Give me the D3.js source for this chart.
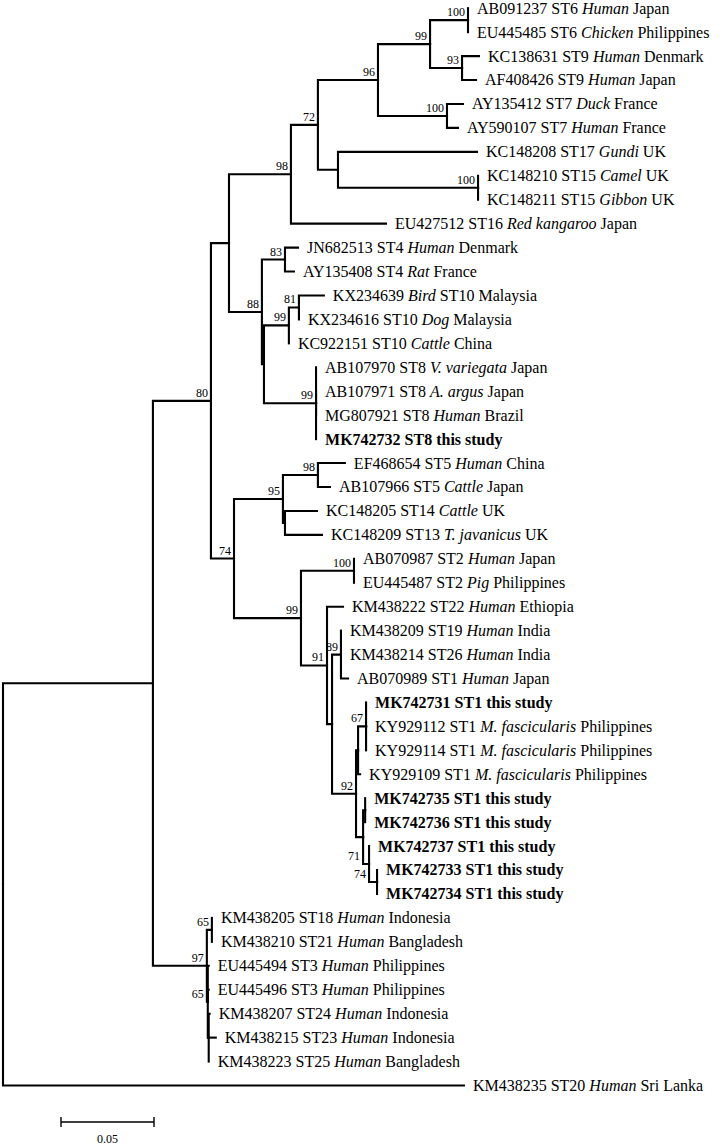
<!DOCTYPE html>
<html>
<head>
<meta charset="utf-8">
<style>
  body { margin: 0; background: #fff; }
  svg { display: block; }
  .branch { fill: none; stroke: #000; stroke-width: 2.1; stroke-linecap: square; }
  .leaf { font-family: "Liberation Serif", "Times New Roman", serif; font-size: 16px; fill: #000; }
  .boot { font-family: "Liberation Serif", "Times New Roman", serif; font-size: 12px; fill: #000; }
</style>
</head>
<body>
<svg id="tree" width="720" height="1145"></svg>

<script src="https://d3js.org/d3.v7.min.js"></script>
<script>
    // internal nodes: id, parent, branch length, bootstrap value
    let internalNodes = [
        ["root", "", 0, ""],
        ["cA", "root", 0.0806, ""],
        ["c80", "cA", 0.0312, "80"],
        ["cX", "c80", 0.0097, ""],
        ["c98b", "cX", 0.0333, "98"],
        ["c72", "c98b", 0.0145, "72"],
        ["c96", "c72", 0.0323, "96"],
        ["c99a", "c96", 0.0280, "99"],
        ["c100a", "c99a", 0.0204, "100"],
        ["c93", "c99a", 0.0172, "93"],
        ["c100b", "c96", 0.0371, "100"],
        ["cG", "c72", 0.0108, ""],
        ["c100c", "cG", 0.0753, "100"],
        ["c88", "cX", 0.0177, "88"],
        ["c83", "c88", 0.0124, "83"],
        ["cN", "c88", 0.0011, ""],
        ["c99c", "cN", 0.0134, "99"],
        ["c81", "c99c", 0.0054, "81"],
        ["c99d", "cN", 0.0280, "99"],
        ["c74", "c80", 0.0124, "74"],
        ["c95", "c74", 0.0263, "95"],
        ["c98c", "c95", 0.0188, "98"],
        ["cM", "c95", 0.0011, ""],
        ["c99e", "c74", 0.0360, "99"],
        ["c100d", "c99e", 0.0285, "100"],
        ["c91", "c99e", 0.0140, "91"],
        ["cQ", "c91", 0.0027, ""],
        ["c89", "cQ", 0.0048, "89"],
        ["c92", "cQ", 0.0129, "92"],
        ["cS", "c92", 0.0011, ""],
        ["c67", "cS", 0.0043, "67"],
        ["cL", "c92", 0.0038, ""],
        ["cP", "cL", 0.0011, ""],
        ["c71", "cL", 0.0032, "71"],
        ["c74b", "c71", 0.0043, "74"],
        ["c97", "cA", 0.0290, "97"],
        ["c65a", "c97", 0.0027, "65"],
        ["c65b", "c97", 0.0005, "65"],
        ["cZ", "c65b", 0.0005, ""]
    ]

    // leaves top to bottom: parent, branch length, label pieces (odd pieces are italic)
    let leafNodes = [
        ["c100a", 0, ["AB091237 ST6 ", "Human", " Japan"]],
        ["c100a", 0, ["EU445485 ST6 ", "Chicken", " Philippines"]],
        ["c93", 0.0091, ["KC138631 ST9 ", "Human", " Denmark"]],
        ["c93", 0.0075, ["AF408426 ST9 ", "Human", " Japan"]],
        ["c100b", 0.0086, ["AY135412 ST7 ", "Duck", " France"]],
        ["c100b", 0.0059, ["AY590107 ST7 ", "Human", " France"]],
        ["cG", 0.0747, ["KC148208 ST17 ", "Gundi", " UK"]],
        ["c100c", 0, ["KC148210 ST15 ", "Camel", " UK"]],
        ["c100c", 0, ["KC148211 ST15 ", "Gibbon", " UK"]],
        ["c98b", 0.0511, ["EU427512 ST16 ", "Red kangaroo", " Japan"]],
        ["c83", 0.0070, ["JN682513 ST4 ", "Human", " Denmark"]],
        ["c83", 0.0048, ["AY135408 ST4 ", "Rat", " France"]],
        ["c81", 0.0134, ["KX234639 ", "Bird", " ST10 Malaysia"]],
        ["c81", 0, ["KX234616 ST10 ", "Dog", " Malaysia"]],
        ["c99c", 0, ["KC922151 ST10 ", "Cattle", " China"]],
        ["c99d", 0, ["AB107970 ST8 ", "V. variegata", " Japan"]],
        ["c99d", 0, ["AB107971 ST8 ", "A. argus", " Japan"]],
        ["c99d", 0, ["MG807921 ST8 ", "Human", " Brazil"]],
        ["c99d", 0, ["MK742732 ST8 this study"]],
        ["c98c", 0.0145, ["EF468654 ST5 ", "Human", " China"]],
        ["c98c", 0.0065, ["AB107966 ST5 ", "Cattle", " Japan"]],
        ["cM", 0.0172, ["KC148205 ST14 ", "Cattle", " UK"]],
        ["cM", 0.0199, ["KC148209 ST13 ", "T. javanicus", " UK"]],
        ["c100d", 0, ["AB070987 ST2 ", "Human", " Japan"]],
        ["c100d", 0, ["EU445487 ST2 ", "Pig", " Philippines"]],
        ["c91", 0.0086, ["KM438222 ST22 ", "Human", " Ethiopia"]],
        ["c89", 0, ["KM438209 ST19 ", "Human", " India"]],
        ["c89", 0, ["KM438214 ST26 ", "Human", " India"]],
        ["c89", 0.0038, ["AB070989 ST1 ", "Human", " Japan"]],
        ["c67", 0, ["MK742731 ST1 this study"]],
        ["c67", 0, ["KY929112 ST1 ", "M. fascicularis", " Philippines"]],
        ["c67", 0, ["KY929114 ST1 ", "M. fascicularis", " Philippines"]],
        ["cS", 0.0011, ["KY929109 ST1 ", "M. fascicularis", " Philippines"]],
        ["cP", 0, ["MK742735 ST1 this study"]],
        ["cP", 0, ["MK742736 ST1 this study"]],
        ["c71", 0, ["MK742737 ST1 this study"]],
        ["c74b", 0, ["MK742733 ST1 this study"]],
        ["c74b", 0, ["MK742734 ST1 this study"]],
        ["c65a", 0, ["KM438205 ST18 ", "Human", " Indonesia"]],
        ["c65a", 0, ["KM438210 ST21 ", "Human", " Bangladesh"]],
        ["c65b", 0.0005, ["EU445494 ST3 ", "Human", " Philippines"]],
        ["c65b", 0.0005, ["EU445496 ST3 ", "Human", " Philippines"]],
        ["cZ", 0.0005, ["KM438207 ST24 ", "Human", " Indonesia"]],
        ["cZ", 0.0038, ["KM438215 ST23 ", "Human", " Indonesia"]],
        ["cZ", 0, ["KM438223 ST25 ", "Human", " Bangladesh"]],
        ["root", 0.2478, ["KM438235 ST20 ", "Human", " Sri Lanka"]]
    ]

    // leaves that are bold (sequences of this study)
    let studyLeaves = ["MK742732", "MK742731", "MK742735", "MK742736", "MK742737", "MK742733", "MK742734"]

    let scaleBarValue = 0.05
    let scaleBarLabel = "0.05"

    let svg = d3.select('#tree')

    // build one table for stratify
    let rows = internalNodes.map(d => ({id: d[0], parent: d[1], len: d[2], boot: d[3]}))
    leafNodes.forEach((d, i) => {
        rows.push({id: "leaf" + i, parent: d[0], len: d[1], label: d[2], index: i,
            bold: studyLeaves.includes(d[2][0].split(" ")[0])})
    })

    let root = d3.stratify()
        .id(d => d.id)
        .parentId(d => d.parent || null)(rows)

    // keep children in the leaf order
    root.eachAfter(n => {
        n.order = n.children ? d3.min(n.children, c => c.order) : n.data.index
    })
    root.sort((a, b) => a.order - b.order)

    let x = d3.scaleLinear().domain([0, 0.05]).range([3, 96])
    let y = d3.scaleLinear().domain([0, leafNodes.length - 1]).range([8.2, 1085.5])

    // distance from root
    root.eachBefore(n => {
        n.dist = n.parent ? n.parent.dist + n.data.len : 0
        n.px = x(n.dist)
    })
    root.eachAfter(n => {
        if (n.children) {
            n.py = (n.children[0].py + n.children[n.children.length - 1].py) / 2
        } else {
            n.py = y(n.data.index)
        }
    })

    // branches: vertical at parent, then horizontal to child
    svg.append('g')
        .selectAll('path')
        .data(root.links())
        .join('path')
        .attr('class', 'branch')
        .attr('d', d => 'M' + d.source.px + ',' + d.source.py +
            'V' + d.target.py + 'H' + d.target.px)

    // bootstrap values, moved left of the parent line when the branch is too short
    function bootX(n) {
        let right = n.px - 3
        let w = n.data.boot.length * 6
        if (n.parent.children[0] !== n && right - w < n.parent.px) {
            right = n.parent.px - 3
        }
        return right
    }

    svg.append('g')
        .selectAll('text')
        .data(root.descendants().filter(n => n.children && n.data.boot))
        .join('text')
        .attr('class', 'boot')
        .attr('text-anchor', 'end')
        .attr('x', n => bootX(n))
        .attr('y', n => n.py - 4)
        .text(n => n.data.boot)

    // leaf labels
    let labels = svg.append('g')
        .selectAll('text')
        .data(root.leaves())
        .join('text')
        .attr('class', 'leaf')
        .attr('x', n => n.px + 9)
        .attr('y', n => n.py)
        .attr('dy', '0.34em')
        .style('font-weight', n => n.data.bold ? 'bold' : 'normal')

    labels.each(function (n) {
        let t = d3.select(this)
        n.data.label.forEach((part, i) => {
            t.append('tspan')
                .style('font-style', i % 2 === 1 ? 'italic' : 'normal')
                .text(part)
        })
    })

    // scale bar
    let barX = 61
    let barY = 1122
    let barW = x(scaleBarValue) - x(0)
    let bar = svg.append('g').attr('stroke', '#000').attr('stroke-width', 1.4)
    bar.append('line').attr('x1', barX).attr('x2', barX + barW).attr('y1', barY).attr('y2', barY)
    bar.append('line').attr('x1', barX).attr('x2', barX).attr('y1', barY - 5).attr('y2', barY + 5)
    bar.append('line').attr('x1', barX + barW).attr('x2', barX + barW).attr('y1', barY - 5).attr('y2', barY + 5)
    svg.append('text')
        .attr('class', 'boot')
        .attr('text-anchor', 'middle')
        .attr('x', barX + barW / 2)
        .attr('y', 1143)
        .text(scaleBarLabel)
</script>
</body>
</html>
